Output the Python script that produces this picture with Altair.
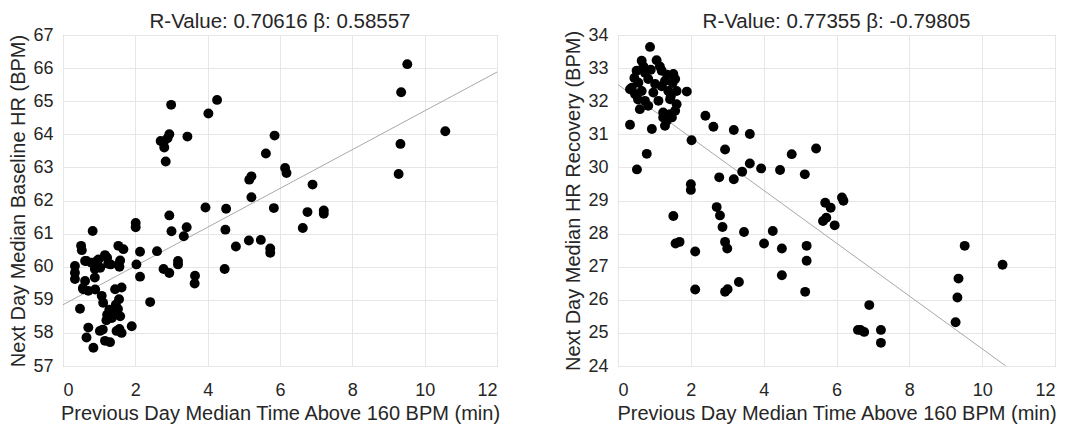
import altair as alt
import pandas as pd

# ---------------- data ----------------
left_x = [9.52, 9.35, 9.33, 9.28, 10.57,
          4.26, 4.02, 2.99, 2.94, 2.89, 2.70, 2.78, 2.80, 2.84, 3.44,
          5.85, 5.61, 6.14, 6.18, 6.90, 5.15, 5.21, 5.21,
          3.94, 4.51, 5.83, 6.76, 7.21, 7.21, 6.63, 4.49,
          2.94, 3.00, 3.42, 3.34, 5.14, 5.47, 4.78, 5.73, 5.73, 4.47,
          2.01, 2.01, 2.13, 2.60, 2.03, 2.13, 2.78, 2.94, 3.18, 3.18, 3.65, 3.64, 2.41,
          0.82, 0.50, 0.52, 0.33, 0.33, 0.33,
          0.61, 0.79, 0.98, 1.16, 0.88, 0.88,
          1.25, 1.53, 1.58, 1.53, 1.67,
          0.61, 0.56, 0.70, 0.47,
          1.07, 1.11, 1.44, 1.62,
          1.28, 1.40, 1.52, 1.58, 1.35, 1.22, 1.20, 1.46, 1.55,
          0.70, 0.65, 0.84,
          1.02, 1.16, 1.30,
          1.48, 1.62, 1.90, 1.56,
          0.94, 1.03, 0.89, 0.55, 1.22, 1.56, 1.32, 0.65, 1.10]
left_y = [66.12, 65.27, 63.71, 62.80, 64.09,
          65.04, 64.63, 64.89, 64.00, 63.88, 63.80, 63.74, 63.60, 63.18, 63.93,
          63.96, 63.42, 62.98, 62.83, 62.48, 62.63, 62.73, 62.10,
          61.79, 61.75, 61.77, 61.65, 61.70, 61.60, 61.17, 61.12,
          61.55, 61.07, 61.19, 60.92, 60.79, 60.81, 60.61, 60.55, 60.42, 59.93,
          61.32, 61.19, 60.45, 60.47, 60.07, 59.70, 59.93, 59.81, 60.17, 60.07, 59.73, 59.49, 58.93,
          61.08, 60.63, 60.50, 60.02, 59.82, 59.63,
          60.17, 60.12, 60.22, 60.35, 59.93, 59.67,
          60.09, 60.07, 60.19, 60.63, 60.53,
          59.57, 59.32, 59.27, 58.73,
          59.12, 58.91, 59.32, 59.37,
          58.70, 58.60, 58.72, 58.50, 58.45, 58.55, 58.38, 58.85, 59.02,
          58.16, 57.86, 57.55,
          58.06, 57.76, 57.72,
          58.06, 58.00, 58.20, 58.12,
          60.17, 59.97, 59.31, 59.36, 60.27, 60.00, 60.07, 60.17, 58.10]

right_x = [0.88, 0.65, 1.06, 0.51, 0.74, 1.20, 1.52,
           0.38, 0.56, 0.83, 1.02, 1.29, 1.57,
           0.33, 0.47, 0.65, 0.97, 1.38, 1.61, 1.89,
           0.74, 1.11, 1.43, 1.61, 0.60, 0.83,
           1.24, 1.43, 1.57, 1.24, 1.34, 1.48, 1.29,
           0.33, 0.93, 0.79,
           0.70, 1.15, 0.45, 1.45, 1.20, 0.90, 1.35, 1.50, 0.55,
           0.52, 2.02, 2.40, 2.62, 3.18, 3.62, 2.94, 3.62, 3.93, 3.41, 2.78, 3.18,
           4.77, 5.44, 4.45, 5.13, 2.00, 2.00, 1.52, 1.58, 1.69, 2.12, 2.12,
           2.71, 2.80, 2.87, 2.94, 3.00, 3.46, 2.94, 3.01, 3.32,
           4.01, 4.25, 4.50, 4.50, 5.18, 5.18, 5.14,
           5.63, 5.72, 5.69, 5.84, 5.95, 6.15, 6.19,
           6.90, 6.59, 6.66, 6.76, 7.22, 7.22,
           9.27, 9.32, 9.35, 9.52, 10.56]
right_y = [33.64, 33.22, 33.24, 32.92, 32.86, 32.92, 32.82,
           32.41, 32.56, 32.67, 32.52, 32.61, 32.67,
           32.36, 32.21, 32.31, 32.26, 32.31, 32.31, 32.29,
           32.01, 32.01, 32.06, 31.91, 31.76, 31.86,
           31.66, 31.61, 31.71, 31.51, 31.41, 31.51, 31.26,
           31.29, 31.16, 30.41,
           33.05, 33.05, 32.70, 32.15, 32.45, 32.95, 32.80, 32.55, 32.05,
           29.94, 30.82, 31.56, 31.23, 31.13, 31.01, 30.54, 30.12, 29.97, 29.87, 29.70, 29.64,
           30.40, 30.57, 29.92, 29.79, 29.49, 29.32, 28.53, 27.70, 27.75, 27.46, 26.31,
           28.80, 28.55, 28.20, 27.75, 27.55, 28.05, 26.24, 26.32, 26.54,
           27.70, 28.08, 27.55, 26.74, 27.63, 27.18, 26.24,
           28.38, 28.48, 28.93, 28.78, 28.25, 29.09, 28.99,
           25.84, 25.09, 25.09, 25.03, 25.09, 24.70,
           25.32, 26.07, 26.64, 27.63, 27.06]

# regression lines (end points)
left_fit_x = [0, 12]
left_fit_y = [58.85, 65.88]
right_fit_x = [0, 10.65]
right_fit_y = [32.50, 24.00]

left_title = "R-Value: 0.70616 β: 0.58557"
right_title = "R-Value: 0.77355 β: -0.79805"
x_title = "Previous Day Median Time Above 160 BPM (min)"
left_ytitle = "Next Day Median Baseline HR (BPM)"
right_ytitle = "Next Day Median HR Recovery (BPM)"

x_ticks = [0, 2, 4, 6, 8, 10, 12]
left_yticks = list(range(57, 68))
right_yticks = list(range(24, 35))

FONT = "Liberation Sans"
TXT = "#262626"


def panel(xs, ys, fx, fy, ydom, yticks, title, ytitle, w):
    pts = pd.DataFrame({"x": xs, "y": ys})
    fit = pd.DataFrame({"x": fx, "y": fy})
    xsc = alt.Scale(domain=[0, 12], nice=False, zero=False)
    ysc = alt.Scale(domain=ydom, nice=False, zero=False)
    xax = alt.Axis(values=x_ticks, title=x_title, titlePadding=4, labelPadding=15,
                   labelOverlap=False, tickCount=len(x_ticks))
    yax = alt.Axis(values=yticks, title=ytitle, titlePadding=4, labelPadding=10,
                   labelOverlap=False, tickCount=len(yticks))
    enc_x = alt.X("x:Q", scale=xsc, axis=xax)
    enc_y = alt.Y("y:Q", scale=ysc, axis=yax)
    line = alt.Chart(fit).mark_line(color="#a8a8a8", strokeWidth=1, clip=True).encode(
        x=enc_x, y=enc_y
    )
    dots = alt.Chart(pts).mark_circle(size=98, color="black", opacity=1).encode(
        x=enc_x, y=enc_y
    )
    return alt.layer(line, dots).properties(
        width=w, height=331, title=alt.Title(title, anchor="middle")
    )


left = panel(left_x, left_y, left_fit_x, left_fit_y, [57, 67], left_yticks,
             left_title, left_ytitle, 434)
right = panel(right_x, right_y, right_fit_x, right_fit_y, [24, 34], right_yticks,
              right_title, right_ytitle, 437)

chart = (
    alt.hconcat(left, right, spacing=62)
    .properties(padding={"top": 3, "left": 0, "right": 0, "bottom": 0})
    .configure_view(stroke="#9a9a9a", strokeWidth=1)
    .configure_axis(
        grid=True, gridColor="#e6e6e6", gridWidth=1,
        domain=False, ticks=False,
        labelFont=FONT, titleFont=FONT,
        labelFontSize=18, titleFontSize=20,
        labelColor=TXT, titleColor=TXT,
        titleFontWeight="normal",
    )
    .configure_title(font=FONT, fontSize=20.5, fontWeight="normal", color=TXT, offset=-6.5)
)

chart.save("out.html", embed_options={"renderer": "svg", "actions": False})
